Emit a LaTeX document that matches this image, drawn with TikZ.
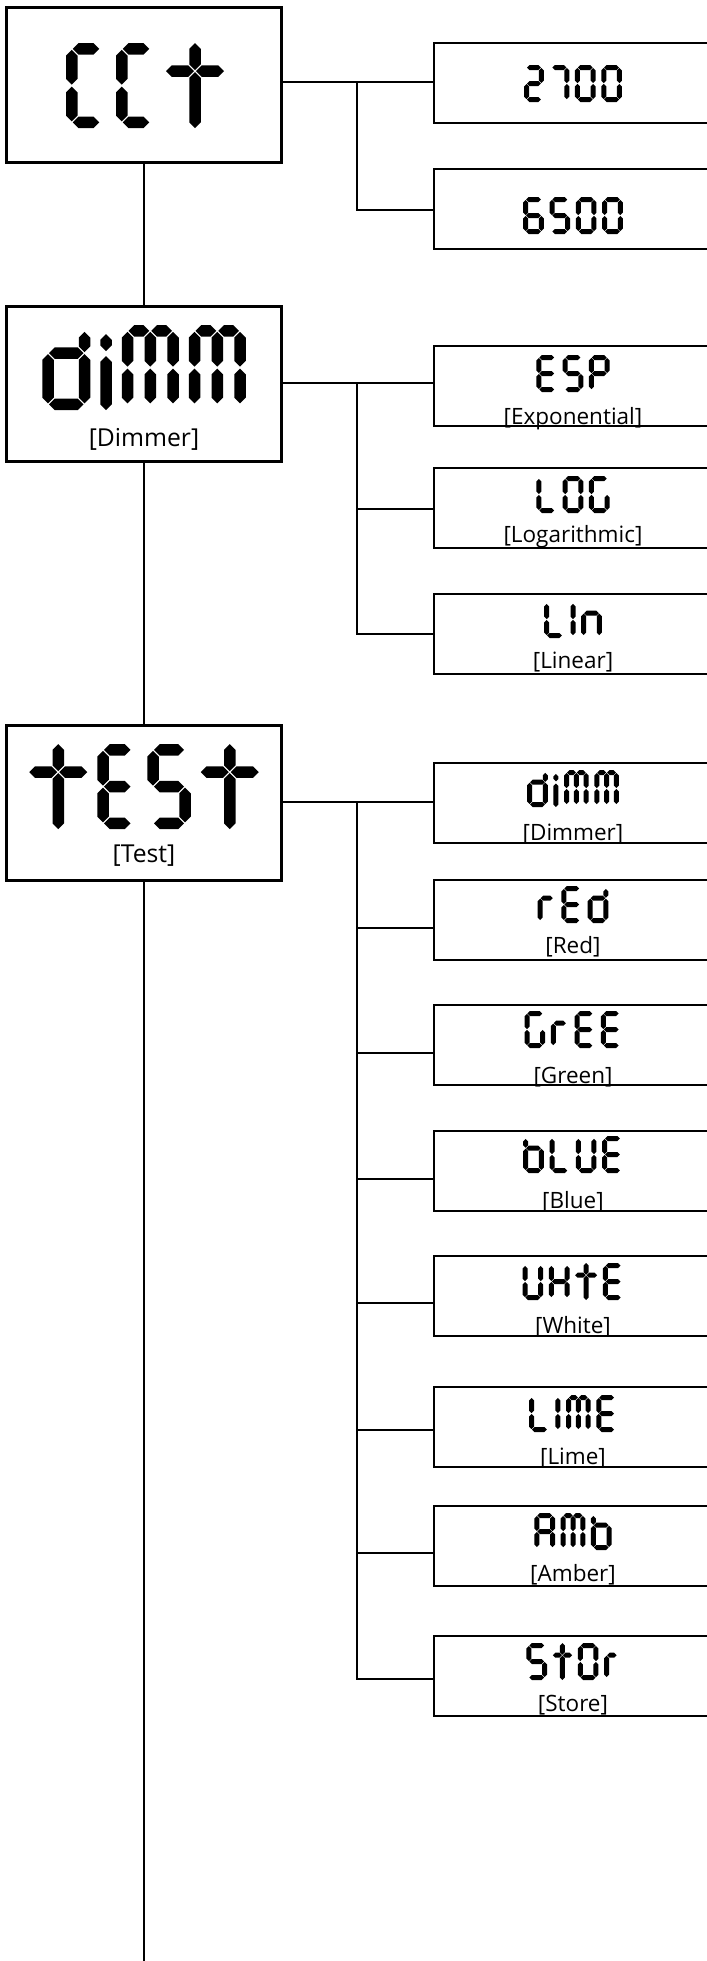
\documentclass[tikz,border=0pt]{standalone}
\usepackage{fontspec}
\setmainfont{Open Sans}
\usetikzlibrary{calc}
% ---- seven-segment style glyph machinery ----
\newcommand\segh[3]{\fill ({#1+0.1},{#3}) -- ({#1+0.675},{#3+0.575}) -- ({#2-0.675},{#3+0.575}) -- ({#2-0.1},{#3}) -- ({#2-0.675},{#3-0.575}) -- ({#1+0.675},{#3-0.575}) -- cycle;}
\newcommand\segv[3]{\fill ({#1},{#2+0.1}) -- ({#1+0.575},{#2+0.675}) -- ({#1+0.575},{#3-0.675}) -- ({#1},{#3-0.1}) -- ({#1-0.575},{#3-0.675}) -- ({#1-0.575},{#2+0.675}) -- cycle;}
\def\yB{0.575}\def\yT{7.925}\def\yM{4.25}\def\yL{5.7}
\def\sgA{\segh{\xL}{\xR}{\yT}}
\def\sgAa{\segh{\xL}{\xC}{\yT}}
\def\sgAb{\segh{\xC}{\xR}{\yT}}
\def\sgB{\segv{\xR}{\yM}{\yT}}
\def\sgC{\segv{\xR}{\yB}{\yM}}
\def\sgD{\segh{\xL}{\xR}{\yB}}
\def\sgE{\segv{\xL}{\yB}{\yM}}
\def\sgF{\segv{\xL}{\yM}{\yT}}
\def\sgG{\segh{\xL}{\xR}{\yM}}
\def\sgH{\segv{\xC}{\yM}{\yT}}
\def\sgI{\segv{\xC}{\yB}{\yM}}
\def\sgGl{\segh{\xL}{\xR}{\yL}}
\def\sgEl{\segv{\xL}{\yB}{\yL}}
\def\sgFl{\segv{\xL}{\yL}{\yT}}
\def\sgCl{\segv{\xR}{\yB}{\yL}}
\def\sgBl{\segv{\xR}{\yL}{\yT}}
\def\defglyph#1#2{\expandafter\def\csname lcdg#1\endcsname{#2}}
\defglyph{C}{\sgA\sgF\sgE\sgD}
\defglyph{E}{\sgA\sgF\sgE\sgD\sgG}
\defglyph{S}{\sgA\sgF\sgG\sgC\sgD}
\defglyph{P}{\sgA\sgB\sgF\sgE\sgG}
\defglyph{L}{\sgF\sgE\sgD}
\defglyph{O}{\sgA\sgB\sgC\sgD\sgE\sgF}
\defglyph{0}{\sgA\sgB\sgC\sgD\sgE\sgF}
\defglyph{G}{\sgA\sgF\sgE\sgD\sgC}
\defglyph{2}{\sgA\sgB\sgG\sgE\sgD}
\defglyph{7}{\sgA\sgB\sgC}
\defglyph{6}{\sgA\sgF\sgE\sgD\sgC\sgG}
\defglyph{5}{\sgA\sgF\sgG\sgC\sgD}
\defglyph{U}{\sgF\sgE\sgD\sgC\sgB}
\defglyph{H}{\sgF\sgE\sgB\sgC\sgG}
\defglyph{A}{\sgA\sgB\sgC\sgE\sgF\sgG}
\defglyph{M}{\sgAa\sgAb\sgF\sgE\sgH\sgI\sgB\sgC}
\defglyph{d}{\sgGl\sgEl\sgD\sgCl\sgBl}
\defglyph{b}{\sgFl\sgEl\sgGl\sgCl\sgD}
\defglyph{r}{\sgEl\sgGl}
\defglyph{n}{\sgEl\sgGl\sgCl}
\defglyph{i}{\segv{\xL}{-0.1}{5.5}\segv{\xL}{5.8}{7.7}}
\defglyph{I}{\sgF\sgE}
\defglyph{t}{\segv{\xC}{-0.1}{\yL}\segv{\xC}{\yL}{8.6}\segh{-0.1}{\xC}{\yL}\segh{\xC}{\xR+0.675}{\yL}}
% #1 centre x (px), #2 bottom y (px), #3 unit (px), #4 gap (units), #5 glyph/width list
\newcommand\lcdword[5]{%
  \gdef\lcdtot{0}%
  \foreach \gn/\gwd in {#5}{\pgfmathsetmacro\lcdtmp{\lcdtot+\gwd+1.15+#4}\global\let\lcdtot\lcdtmp}%
  \pgfmathsetmacro\lcdstart{#1-(\lcdtot-#4)*#3/2}%
  \pgfmathsetmacro\lcdu{#3*0.5}%
  \begin{scope}[shift={(\lcdstart,#2)},x=\lcdu pt,y=\lcdu pt]
    \gdef\lcdx{0}%
    \foreach \gn/\gwd in {#5}{%
      \begin{scope}[shift={(\lcdx,0)}]
        \pgfmathsetmacro\xL{0.575}\pgfmathsetmacro\xR{0.575+\gwd}\pgfmathsetmacro\xC{0.575+\gwd/2}%
        \csname lcdg\gn\endcsname
      \end{scope}%
      \pgfmathsetmacro\lcdtmp{\lcdx+\gwd+1.15+#4}\global\let\lcdx\lcdtmp
    }%
  \end{scope}%
}
\begin{document}
\begin{tikzpicture}[x=0.5pt,y=-0.5pt,
  lbox/.style={draw, line width=1.4pt, minimum width=137.5pt, minimum height=77.5pt, inner sep=0pt, outer sep=0pt},
  rbox/.style={draw, line width=1pt, minimum width=139pt, minimum height=40pt, inner sep=0pt, outer sep=0pt},
  wire/.style={line width=1pt},
  lbl/.style={inner sep=0pt, outer sep=0pt, font=\fontsize{11.25}{13}\selectfont},
  blbl/.style={inner sep=0pt, outer sep=0pt, font=\fontsize{12.35}{14}\selectfont}]
\useasboundingbox (0,0) rectangle (707,1961);
% main boxes
\node[lbox] (cct) at (144,85) {};
\node[lbox] (dimm) at (144,384) {};
\node[lbox] (test) at (144,803) {};
% option boxes
\node[rbox] (k2700) at (573,83) {};
\node[rbox] (k6500) at (573,209) {};
\node[rbox] (kesp) at (573,386) {};
\node[rbox] (klog) at (573,508) {};
\node[rbox] (klin) at (573,634) {};
\node[rbox] (kdim) at (573,803) {};
\node[rbox] (kred) at (573,920) {};
\node[rbox] (kgre) at (573,1045) {};
\node[rbox] (kblu) at (573,1171) {};
\node[rbox] (kwht) at (573,1296) {};
\node[rbox] (klim) at (573,1427) {};
\node[rbox] (kamb) at (573,1546) {};
\node[rbox] (ksto) at (573,1676) {};
% connection points
\coordinate (bx) at (357,0);
\coordinate (q2700) at ($(k2700.west)+(0,-1)$);
\coordinate (q6500) at ($(k6500.west)+(0,1)$);
\coordinate (qesp) at ($(kesp.west)+(0,-3)$);
\coordinate (qlog) at ($(klog.west)+(0,1)$);
\coordinate (qlin) at ($(klin.west)+(0,0)$);
\coordinate (qdim) at ($(kdim.west)+(0,-1)$);
\coordinate (qred) at ($(kred.west)+(0,8)$);
\coordinate (qgre) at ($(kgre.west)+(0,8)$);
\coordinate (qblu) at ($(kblu.west)+(0,8)$);
\coordinate (qwht) at ($(kwht.west)+(0,7)$);
\coordinate (qlim) at ($(klim.west)+(0,3)$);
\coordinate (qamb) at ($(kamb.west)+(0,7)$);
\coordinate (qsto) at ($(ksto.west)+(0,3)$);
\coordinate (bottom) at (144,1970);
% main spine
\draw[wire] (cct.south) -- (dimm.north);
\draw[wire] (dimm.south) -- (test.north);
\draw[wire] (test.south) -- (bottom);
% CCt branch
\draw[wire] (cct.east |- q2700) -- (q2700);
\draw[wire] (bx |- q2700) -- (bx |- q6500) -- (q6500);
% dimm branch
\draw[wire] (dimm.east |- qesp) -- (qesp);
\draw[wire] (bx |- qesp) -- (bx |- qlin) -- (qlin);
\draw[wire] (bx |- qlog) -- (qlog);
% test branch
\draw[wire] (test.east |- qdim) -- (qdim);
\draw[wire] (bx |- qdim) -- (bx |- qsto) -- (qsto);
\draw[wire] (bx |- qred) -- (qred);
\draw[wire] (bx |- qgre) -- (qgre);
\draw[wire] (bx |- qblu) -- (qblu);
\draw[wire] (bx |- qwht) -- (qwht);
\draw[wire] (bx |- qlim) -- (qlim);
\draw[wire] (bx |- qamb) -- (qamb);
% labels
\node[blbl] (tdimm) at (144,439) {[Dimmer]};
\node[blbl] (ttest) at (144,856) {[Test]};
\node[lbl] (tesp) at (573,419) {[Exponential]};
\node[lbl] (tlog) at (573,537) {[Logarithmic]};
\node[lbl] (tlin) at (573,662) {[Linear]};
\node[lbl] (tdim) at (573,834) {[Dimmer]};
\node[lbl] (tred) at (573,947) {[Red]};
\node[lbl] (tgre) at (573,1077) {[Green]};
\node[lbl] (tblu) at (573,1202) {[Blue]};
\node[lbl] (twht) at (573,1327) {[White]};
\node[lbl] (tlim) at (573,1458) {[Lime]};
\node[lbl] (tamb) at (573,1575) {[Amber]};
\node[lbl] (tsto) at (573,1705) {[Store]};
% LCD words
\lcdword{145}{128}{10}{1.0}{C/2.85,C/2.85,t/4.65}
\lcdword{144}{410}{10}{1.0}{d/3.65,i/0,M/4.55,M/4.55}
\lcdword{144}{829}{10}{1.0}{t/4.65,E/2.85,S/3.2,t/4.65}
\lcdword{573}{102}{4.35}{1.3}{2/3.4,7/3.4,0/3.6,0/3.6}
\lcdword{573}{234}{4.35}{1.3}{6/3.6,5/3.6,0/3.6,0/3.6}
\lcdword{573}{392}{4.35}{1.3}{E/3.6,S/3.6,P/3.6}
\lcdword{573}{513}{4.35}{1.3}{L/3.6,O/3.6,G/3.6}
\lcdword{573}{638}{4.35}{1.3}{L/3.6,I/0,n/3.6}
\lcdword{573}{807}{4.35}{1.3}{d/3.6,i/0,M/4.5,M/4.5}
\lcdword{573}{923}{4.35}{1.3}{r/3.0,E/3.6,d/3.6}
\lcdword{573}{1048}{4.35}{1.3}{G/3.6,r/3.0,E/3.6,E/3.6}
\lcdword{573}{1173}{4.35}{1.3}{b/3.6,L/3.6,U/3.6,E/3.6}
\lcdword{573}{1300}{4.35}{1.3}{U/3.6,H/3.6,t/3.9,E/3.6}
\lcdword{573}{1432}{4.35}{1.3}{L/3.6,I/0,M/4.5,E/3.6}
\lcdword{573}{1550}{4.35}{1.3}{A/3.6,M/4.5,b/3.6}
\lcdword{573}{1680}{4.35}{1.3}{S/3.6,t/3.3,O/3.6,r/2.4}
\end{tikzpicture}
\end{document}
